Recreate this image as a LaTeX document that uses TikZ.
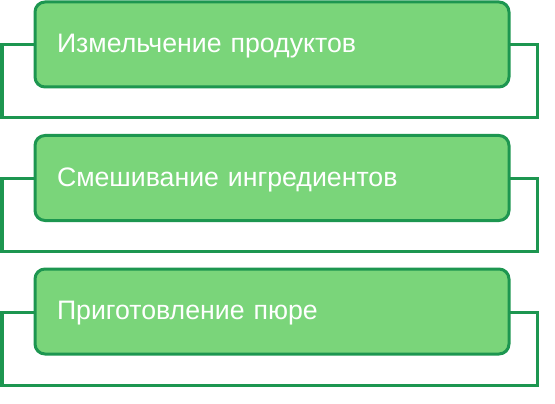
\documentclass[tikz,border=0pt]{standalone}
\usepackage{fontspec}
\setmainfont{Liberation Sans}
\definecolor{boxgreen}{RGB}{122,213,122}
\definecolor{edgegreen}{RGB}{29,150,80}
\tikzset{
    stepbox/.style={draw=edgegreen, fill=boxgreen, line width=3pt, rounded corners=10pt,
        minimum width=474pt, minimum height=85pt, inner xsep=22pt, text width=430pt, align=left,
        text=white, font=\fontsize{26.7}{30}\selectfont, text height=21pt, text depth=5pt},
    frame/.style={draw=edgegreen, line width=3pt}
}
\begin{document}
\begin{tikzpicture}[x=1pt, y=-1pt]
            \useasboundingbox (0, 0) rectangle (555, 404);

            \coordinate (A1) at (2, 45);
            \coordinate (C1) at (537, 118);
            \draw[frame] (A1) rectangle (C1);
            \node[stepbox] (grind) at (272, 44.5) {Измельчение продуктов};

            \coordinate (A2) at (2, 178.5);
            \coordinate (C2) at (537, 251.5);
            \draw[frame] (A2) rectangle (C2);
            \node[stepbox] (mix) at (272, 178) {Смешивание ингредиентов};

            \coordinate (A3) at (2, 312);
            \coordinate (C3) at (537, 385);
            \draw[frame] (A3) rectangle (C3);
            \node[stepbox] (puree) at (272, 311.5) {Приготовление пюре};
        \end{tikzpicture}
\end{document}
